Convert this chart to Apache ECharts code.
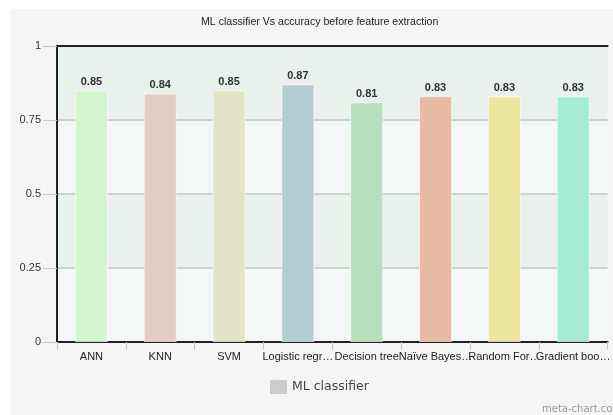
<!DOCTYPE html>
<html>
<head>
<meta charset="utf-8">
<script src="https://cdn.jsdelivr.net/npm/echarts@6/dist/echarts.min.js"></script>
<style>
  html, body { margin: 0; padding: 0; background: #ffffff; }
  #chart { width: 613px; height: 415px; }
</style>
</head>
<body>
<div id="chart"></div>
<script>
// Classifier names as printed under each bar
const categories = ['ANN', 'KNN', 'SVM', 'Logistic regr…', 'Decision tree', 'Naïve Bayes…', 'Random For…', 'Gradient boo…'];
// Accuracy per classifier
const accuracy = [0.85, 0.84, 0.85, 0.87, 0.81, 0.83, 0.83, 0.83];
// Bar fill per classifier
const barColors = ['#d4f5cf', '#e3cdc5', '#e3e4c7', '#b4cdd2', '#b6e0bb', '#e6baa3', '#ede6a3', '#a5ecd5'];
// Y axis ticks
const yTicks = [0, 0.25, 0.5, 0.75, 1];

const chart = echarts.init(document.getElementById('chart'), null, { renderer: 'canvas' });

const font = '"Liberation Sans", Arial, sans-serif';

chart.setOption({
  backgroundColor: '#ffffff',
  animation: false,
  graphic: [
    { type: 'rect', z: -10, silent: true, shape: { x: 11, y: 9, width: 620, height: 420 }, style: { fill: '#f5f5f5' } },
    { type: 'text', z: 10, left: 318 - 117, top: 17, style: { text: 'ML classifier Vs accuracy before feature extraction', font: '10.6px ' + font, fill: '#222222' } },
    { type: 'text', z: 10, left: 542, top: 404, style: { text: 'meta-chart.com', font: '10px "DejaVu Sans", sans-serif', fill: '#9a9a9a' } }
  ],
  legend: {
    bottom: 21,
    left: 270,
    padding: 0,
    itemWidth: 17,
    itemHeight: 14,
    itemGap: 6,
    icon: 'rect',
    textStyle: { fontFamily: '"DejaVu Sans", sans-serif', fontSize: 12.5, color: '#444444' },
    data: ['ML classifier']
  },
  grid: {
    left: 57,
    top: 46,
    width: 558,
    height: 296,
    show: false
  },
  xAxis: [{
    type: 'category',
    data: categories,
    axisLine: { show: true, lineStyle: { color: '#222222', width: 2 } },
    axisTick: { show: true, length: 8, lineStyle: { color: '#c8c8c8', width: 1 } },
    axisLabel: { fontFamily: font, fontSize: 11, color: '#222222', margin: 9, interval: 0 },
    splitLine: { show: false }
  }, {
    // frame line along the top of the plot
    type: 'category',
    position: 'top',
    data: categories,
    axisLine: { show: true, lineStyle: { color: '#222222', width: 2 } },
    axisTick: { show: false },
    axisLabel: { show: false },
    splitLine: { show: false }
  }],
  yAxis: {
    type: 'value',
    min: yTicks[0],
    max: yTicks[yTicks.length - 1],
    interval: 0.25,
    axisLine: { show: true, lineStyle: { color: '#222222', width: 2 } },
    axisTick: { show: true, length: 14, lineStyle: { color: '#c8c8c8', width: 1 } },
    axisLabel: { fontFamily: font, fontSize: 11, color: '#333333', margin: 16 },
    splitLine: { show: true, lineStyle: { color: '#cfcfcf', width: 2 } },
    splitArea: { show: true, areaStyle: { color: ['#f4f7f7', '#e8f1ec'] } }
  },
  series: [{
    name: 'ML classifier',
    type: 'bar',
    barWidth: 33,
    itemStyle: { color: '#cccccc' },
    label: {
      show: true,
      position: 'top',
      distance: 3,
      fontFamily: font,
      fontSize: 11,
      fontWeight: 'bold',
      color: '#333333',
      formatter: p => p.value.toFixed(2)
    },
    data: accuracy.map((v, i) => ({
      value: v,
      itemStyle: { color: barColors[i], borderColor: 'rgba(255,255,255,0.6)', borderWidth: 1 }
    }))
  }]
});
</script>
</body>
</html>
